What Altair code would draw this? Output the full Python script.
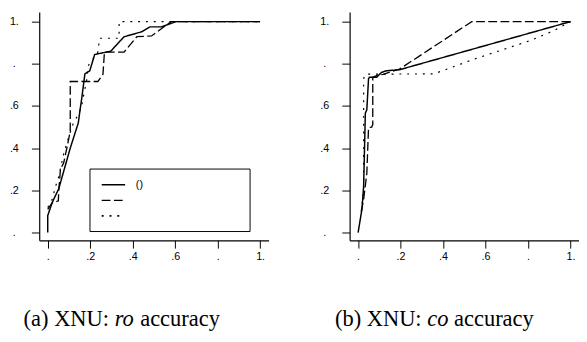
import altair as alt
import pandas as pd

# ---------------- data ----------------
# panel (a): XNU ro accuracy
ro_solid_x = [0.0, 0.0, 0.021, 0.052, 0.106, 0.144, 0.152, 0.159, 0.175, 0.198, 0.221, 0.297, 0.359, 0.443, 0.481, 0.535, 0.604, 1.0]
ro_solid_y = [0.0, 0.08, 0.142, 0.208, 0.40, 0.52, 0.58, 0.628, 0.752, 0.767, 0.844, 0.86, 0.928, 0.952, 0.975, 0.975, 1.0, 1.0]
ro_dash_x = [0.0, 0.02, 0.05, 0.052, 0.06, 0.075, 0.09, 0.106, 0.106, 0.236, 0.26, 0.267, 0.359, 0.42, 0.489, 0.581, 1.0]
ro_dash_y = [0.11, 0.14, 0.15, 0.2, 0.3, 0.33, 0.4, 0.48, 0.716, 0.716, 0.75, 0.855, 0.855, 0.929, 0.932, 1.0, 1.0]
ro_dot_x = [0.0, 0.021, 0.037, 0.052, 0.075, 0.098, 0.121, 0.144, 0.16, 0.172, 0.182, 0.19, 0.236, 0.244, 0.336, 0.336, 1.0]
ro_dot_y = [0.119, 0.157, 0.219, 0.265, 0.373, 0.45, 0.52, 0.559, 0.6, 0.667, 0.713, 0.79, 0.855, 0.921, 0.921, 1.0, 1.0]

# panel (b): XNU co accuracy
co_solid_x = [0.0, 0.018, 0.026, 0.034, 0.041, 0.049, 0.053, 0.087, 0.11, 0.133, 0.195, 1.0]
co_solid_y = [0.0, 0.111, 0.219, 0.566, 0.582, 0.728, 0.736, 0.736, 0.759, 0.767, 0.772, 1.0]
co_dash_x = [0.015, 0.026, 0.041, 0.049, 0.064, 0.069, 0.069, 0.09, 0.118, 0.195, 0.535, 1.0]
co_dash_y = [0.1, 0.157, 0.281, 0.497, 0.5, 0.512, 0.736, 0.745, 0.75, 0.775, 1.0, 1.0]
co_dot_x = [0.015, 0.026, 0.026, 0.034, 0.356, 0.417, 0.54, 0.678, 0.816, 0.923, 1.0]
co_dot_y = [0.1, 0.2, 0.73, 0.751, 0.752, 0.774, 0.82, 0.866, 0.912, 0.958, 1.0]

series_names = ["s1", "s2", "s3"]
legend_labels = ["()", "", ""]

tick_values = [0.0, 0.2, 0.4, 0.6, 0.8, 1.0]
tick_labels = [".", ".2", ".4", ".6", ".", "1."]

caption_a = ["(a) XNU:", "ro", "accuracy"]
caption_b = ["(b) XNU:", "co", "accuracy"]

# ---------------- helpers ----------------
DASHES = [[1, 0], [9, 3.5], [2, 6]]
WIDTHS = [1.5, 1.2, 1.8]
X_DOMAIN = [-0.04, 1.04]
Y_DOMAIN = [-0.037, 1.046]
W, H = 235, 234

label_expr = " : ".join(
    f"abs(datum.value - {v}) < 1e-6 ? '{t}'" for v, t in zip(tick_values, tick_labels)
) + " : ''"


def frame(pairs):
    rows = []
    for name, (xs, ys) in zip(series_names, pairs):
        for i, (x, y) in enumerate(zip(xs, ys)):
            rows.append({"x": x, "y": y, "series": name, "order": i})
    return pd.DataFrame(rows)


def lines(df):
    return alt.Chart(df).mark_line(color="black", clip=True).encode(
        x=alt.X("x:Q", scale=alt.Scale(domain=X_DOMAIN, nice=False, zero=False),
                axis=alt.Axis(values=tick_values, labelExpr=label_expr, title=None,
                              tickSize=8, labelPadding=3, grid=False)),
        y=alt.Y("y:Q", scale=alt.Scale(domain=Y_DOMAIN, nice=False, zero=False),
                axis=alt.Axis(values=tick_values, labelExpr=label_expr, title=None,
                              tickSize=8, labelPadding=18, labelAlign="center",
                              labelBaseline="middle", grid=False,
                              minExtent=32, maxExtent=32)),
        order="order:Q",
        strokeDash=alt.StrokeDash("series:N", scale=alt.Scale(domain=series_names, range=DASHES), legend=None),
        strokeWidth=alt.StrokeWidth("series:N", scale=alt.Scale(domain=series_names, range=WIDTHS), legend=None),
    )


one = pd.DataFrame({"k": [0]})


def caption(parts, x0):
    fs = 23
    # Times-like advance widths (em) for the upright prefix, space and italic word
    widths = {"(a) XNU:": 3.804, "(b) XNU:": 3.86, "ro": 0.889, "co": 0.944}
    space = 0.25 * fs
    xa = x0
    xb = xa + widths[parts[0]] * fs + space
    xc = xb + widths[parts[1]] * fs + space
    base = dict(font="Liberation Serif", fontSize=fs, color="black", align="left", baseline="alphabetic")
    yv = 322
    return [
        alt.Chart(one).mark_text(text=parts[0], **base).encode(x=alt.value(xa), y=alt.value(yv)),
        alt.Chart(one).mark_text(text=parts[1], fontStyle="italic", **base).encode(x=alt.value(xb), y=alt.value(yv)),
        alt.Chart(one).mark_text(text=parts[2], **base).encode(x=alt.value(xc), y=alt.value(yv)),
    ]


def legend_layers():
    layers = [
        alt.Chart(one).mark_rect(fill="white", stroke="black", strokeWidth=1).encode(
            x=alt.value(52), x2=alt.value(216), y=alt.value(161), y2=alt.value(225))
    ]
    for i, (name, lab) in enumerate(zip(series_names, legend_labels)):
        yy = 177 + 16 * i
        layers.append(
            alt.Chart(one).mark_rule(color="black", strokeDash=DASHES[i], strokeWidth=WIDTHS[i]).encode(
                x=alt.value(64), x2=alt.value(88), y=alt.value(yy)))
        if lab:
            layers.append(
                alt.Chart(one).mark_text(text=lab, font="Liberation Sans", fontSize=11, color="black",
                                         align="left", baseline="middle").encode(
                    x=alt.value(99), y=alt.value(yy)))
    return layers


left = alt.layer(
    lines(frame([(ro_solid_x, ro_solid_y), (ro_dash_x, ro_dash_y), (ro_dot_x, ro_dot_y)])),
    *legend_layers(),
    *caption(caption_a, -16),
).properties(width=W, height=H)

right = alt.layer(
    lines(frame([(co_solid_x, co_solid_y), (co_dash_x, co_dash_y), (co_dot_x, co_dot_y)])),
    *caption(caption_b, -15),
).properties(width=W, height=H)

chart = alt.hconcat(left, right, spacing=51).properties(
    padding={"left": 0, "top": 0, "right": 0, "bottom": 0}
).configure_view(stroke=None).configure_axis(
    domainColor="black", domainWidth=1.2, tickColor="black", tickWidth=1,
    labelColor="black", labelFont="Liberation Sans", labelFontSize=11,
)

chart.save("out.html", embed_options={"renderer": "svg", "actions": False})
